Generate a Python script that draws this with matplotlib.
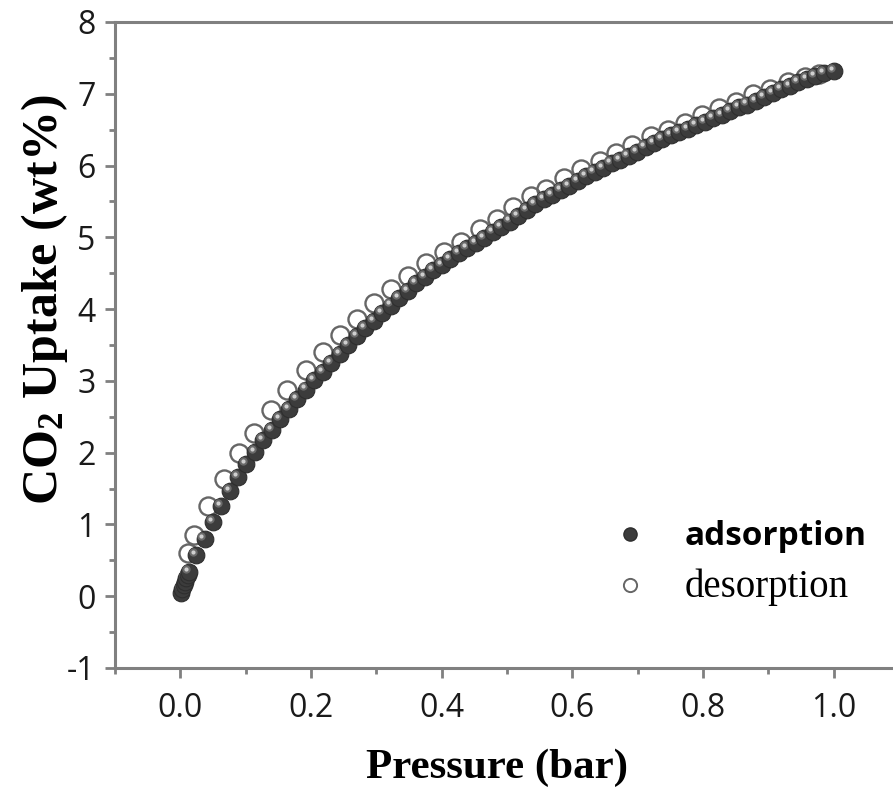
import matplotlib
matplotlib.use("Agg")
import matplotlib.pyplot as plt
from matplotlib.ticker import MultipleLocator, FixedLocator
from matplotlib.lines import Line2D
from matplotlib.transforms import offset_copy

# ---- data ----
p_des = [0.011, 0.021, 0.043, 0.067, 0.090, 0.113, 0.139, 0.164, 0.193, 0.218,
         0.245, 0.271, 0.297, 0.323, 0.348, 0.376, 0.403, 0.430, 0.458, 0.484,
         0.509, 0.537, 0.560, 0.588, 0.614, 0.642, 0.667, 0.692, 0.721, 0.746,
         0.772, 0.798, 0.825, 0.851, 0.876, 0.902, 0.930, 0.956, 0.978]
u_des = [0.60, 0.85, 1.25, 1.64, 1.99, 2.27, 2.60, 2.88, 3.15, 3.40,
         3.64, 3.86, 4.08, 4.28, 4.46, 4.64, 4.80, 4.94, 5.11, 5.26,
         5.42, 5.57, 5.68, 5.82, 5.95, 6.06, 6.17, 6.29, 6.41, 6.50,
         6.59, 6.70, 6.80, 6.88, 6.99, 7.07, 7.16, 7.23, 7.27]

p_ads = [0.001, 0.003, 0.005, 0.007, 0.009, 0.011, 0.013,
         0.024, 0.037, 0.050, 0.063, 0.076, 0.089, 0.101, 0.114, 0.127, 0.140,
         0.153, 0.166, 0.179, 0.192, 0.205, 0.218, 0.231, 0.244, 0.257, 0.270,
         0.283, 0.296, 0.309, 0.322, 0.335, 0.348, 0.361, 0.374, 0.387, 0.400,
         0.413, 0.426, 0.439, 0.452, 0.465, 0.478, 0.491, 0.504, 0.517, 0.530,
         0.543, 0.556, 0.569, 0.582, 0.595, 0.608, 0.621, 0.634, 0.647, 0.660,
         0.673, 0.686, 0.699, 0.712, 0.725, 0.738, 0.751, 0.764, 0.777, 0.790,
         0.803, 0.816, 0.829, 0.842, 0.855, 0.868, 0.881, 0.894, 0.907, 0.920,
         0.933, 0.946, 0.959, 0.972, 0.985, 1.000]
u_ads = [0.05, 0.10, 0.15, 0.20, 0.25, 0.30, 0.34,
         0.58, 0.80, 1.03, 1.25, 1.46, 1.66, 1.84, 2.01, 2.17, 2.32,
         2.47, 2.61, 2.75, 2.88, 3.01, 3.13, 3.25, 3.38, 3.50, 3.62,
         3.73, 3.84, 3.95, 4.05, 4.15, 4.25, 4.36, 4.45, 4.54, 4.62,
         4.70, 4.78, 4.85, 4.92, 4.99, 5.07, 5.14, 5.22, 5.30, 5.38,
         5.46, 5.53, 5.59, 5.66, 5.72, 5.79, 5.85, 5.91, 5.97, 6.03,
         6.08, 6.13, 6.19, 6.26, 6.32, 6.37, 6.42, 6.47, 6.51, 6.56,
         6.61, 6.66, 6.71, 6.76, 6.81, 6.85, 6.90, 6.96, 7.01, 7.06,
         7.11, 7.16, 7.21, 7.25, 7.29, 7.32]

x_major = [0.0, 0.2, 0.4, 0.6, 0.8, 1.0]
x_labels = ["0.0", "0.2", "0.4", "0.6", "0.8", "1.0"]
y_major = [-1, 0, 1, 2, 3, 4, 5, 6, 7, 8]

plt.rcParams['axes.unicode_minus'] = False
plt.rcParams['mathtext.fontset'] = 'custom'
plt.rcParams['mathtext.bf'] = 'Liberation Serif:bold'
plt.rcParams['mathtext.rm'] = 'Liberation Serif:bold'
plt.rcParams['mathtext.default'] = 'bf'

W, H = 893, 796
fig = plt.figure(figsize=(W/100, H/100), dpi=100)
ax_l, ax_r, ax_t, ax_b = 115, 899, 22, 668
ax = fig.add_axes([ax_l/W, 1-ax_b/H, (ax_r-ax_l)/W, (ax_b-ax_t)/H])

spine_c = '#808080'
for s in ax.spines.values():
    s.set_color(spine_c)
    s.set_linewidth(2.2)
ax.spines['right'].set_visible(False)

ax.set_xlim(-0.1, 1.1)
ax.set_ylim(-1, 8)
ax.xaxis.set_major_locator(FixedLocator(x_major))
ax.set_xticklabels(x_labels)
ax.xaxis.set_minor_locator(MultipleLocator(0.1))
ax.yaxis.set_major_locator(FixedLocator(y_major))
ax.yaxis.set_minor_locator(MultipleLocator(0.5))
ax.tick_params(which='both', direction='out', color=spine_c, width=2.0,
               top=False, right=False)
ax.tick_params(which='major', length=7)
ax.tick_params(which='minor', length=4)
ax.tick_params(axis='x', which='major', pad=10)
ax.tick_params(axis='y', which='major', pad=7)
for lab in ax.get_xticklabels() + ax.get_yticklabels():
    lab.set_fontfamily('Open Sans')
    lab.set_fontsize(23)
    lab.set_color('#1a1a1a')

# desorption: open circles
ax.plot(p_des, u_des, linestyle='none', marker='o', markersize=13,
        markerfacecolor='none', markeredgecolor='#666666', markeredgewidth=1.7,
        zorder=3)

# adsorption: shaded spheres
hl = offset_copy(ax.transData, fig=fig, x=-2.2, y=2.2, units='points')
for i, (px, py) in enumerate(zip(p_ads, u_ads)):
    z = 4 + i * 0.01
    ax.plot([px], [py], linestyle='none', marker='o', markersize=12,
            markerfacecolor='#3c3c3c', markeredgecolor='#2e2e2e',
            markeredgewidth=0.8, zorder=z)
    ax.plot([px], [py], linestyle='none', marker='o', markersize=6,
            markerfacecolor='#6a6a6a', markeredgecolor='none', transform=hl,
            zorder=z + 0.003)
    ax.plot([px], [py], linestyle='none', marker='o', markersize=3,
            markerfacecolor='#cfcfcf', markeredgecolor='none', transform=hl,
            zorder=z + 0.006)

ax.set_xlabel('Pressure (bar)', fontfamily='Liberation Serif', fontweight='bold',
              fontsize=31)
ax.xaxis.label.set_va('center')
ax.xaxis.set_label_coords((497-ax_l)/(ax_r-ax_l), (ax_b-768)/(ax_b-ax_t))
ax.set_ylabel('CO$_2$ Uptake (wt%)', fontfamily='Liberation Serif',
              fontweight='bold', fontsize=36)
ax.yaxis.label.set_va('center')
ax.yaxis.set_label_coords((45-ax_l)/(ax_r-ax_l), (ax_b-300)/(ax_b-ax_t))

handles = [
    Line2D([], [], linestyle='none', marker='o', markersize=9.5,
           markerfacecolor='#3c3c3c', markeredgecolor='#2e2e2e'),
    Line2D([], [], linestyle='none', marker='o', markersize=9.5,
           markerfacecolor='none', markeredgecolor='#666666', markeredgewidth=1.4),
]
leg = ax.legend(handles, ['adsorption', 'desorption'], loc='center left',
                bbox_to_anchor=((583-ax_l)/(ax_r-ax_l), (ax_b-563)/(ax_b-ax_t)),
                frameon=False, prop={'size': 24}, handlelength=1.0,
                handletextpad=1.15, labelspacing=0.44, borderpad=0.4)
t0, t1 = leg.get_texts()
t0.set_fontfamily('Open Sans'); t0.set_fontweight('bold'); t0.set_fontsize(24)
t1.set_fontfamily('Liberation Serif'); t1.set_fontsize(28)

fig.savefig('out.png', dpi=100)
